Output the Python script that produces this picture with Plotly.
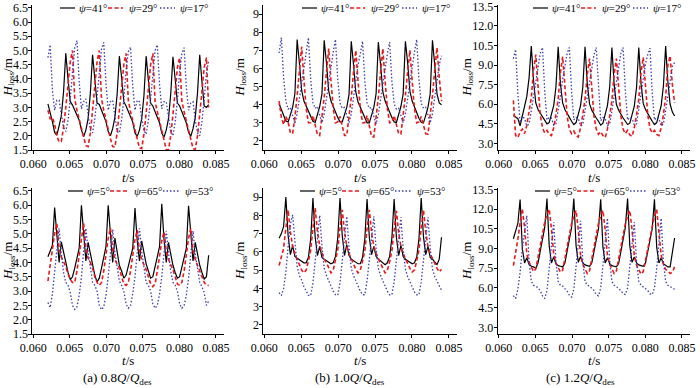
import numpy as np
import plotly.graph_objects as go

# sampling times (s)
t = np.linspace(0.062, 0.084, 73)

# ---- (a) 0.8Q/Qdes, top: psi = 41, 29, 17 deg
a_top_41 = [3.12, 2.85, 2.5, 2.12, 2.02, 2.35, 2.7, 3.55, 4.9, 4.0, 3.2, 3.08,
            2.9, 2.75, 2.55, 2.2, 1.97, 2.2, 2.6, 3.5, 4.85, 4.0, 3.15, 3.1,
            2.88, 2.7, 2.5, 2.15, 2.0, 2.25, 2.65, 3.45, 4.8, 4.05, 3.2, 3.05,
            2.85, 2.72, 2.48, 2.1, 1.98, 2.2, 2.6, 3.4, 4.8, 3.95, 3.15, 3.05,
            2.85, 2.7, 2.45, 2.1, 1.95, 2.2, 2.6, 3.45, 4.78, 4.0, 3.15, 3.05,
            2.85, 2.7, 2.45, 2.12, 1.98, 2.25, 2.65, 3.5, 4.85, 3.9, 3.05, 3.0,
            3.1]
a_top_29 = [2.9, 2.6, 2.65, 2.4, 2.0, 1.78, 1.8, 2.3, 3.0, 3.9, 4.6, 5.0,
            3.3, 2.9, 2.6, 2.3, 1.95, 1.65, 1.62, 2.1, 2.9, 3.8, 4.6, 5.0,
            3.3, 2.9, 2.55, 2.25, 1.9, 1.62, 1.6, 2.1, 2.85, 3.7, 4.5, 4.9,
            3.25, 2.85, 2.55, 2.2, 1.85, 1.57, 1.55, 2.05, 2.8, 3.7, 4.5, 4.9,
            3.2, 2.85, 2.5, 2.2, 1.85, 1.52, 1.5, 2.0, 2.75, 3.6, 4.4, 4.75,
            3.2, 2.85, 2.5, 2.2, 1.85, 1.55, 1.52, 2.0, 2.75, 3.6, 4.4, 4.75,
            3.0]
a_top_17 = [4.75, 5.2, 3.6, 2.9, 3.25, 3.25, 2.75, 2.3, 2.15, 2.55, 3.3, 4.3,
            5.1, 5.35, 3.9, 2.95, 3.2, 3.3, 2.65, 2.2, 2.1, 2.6, 3.35, 4.35,
            5.05, 5.28, 3.85, 2.9, 3.2, 3.25, 2.6, 2.15, 2.1, 2.55, 3.3, 4.3,
            4.95, 5.12, 3.75, 2.9, 3.25, 3.2, 2.6, 2.2, 2.05, 2.55, 3.3, 4.3,
            5.0, 5.2, 3.8, 2.95, 3.2, 3.2, 2.6, 2.15, 2.0, 2.5, 3.25, 4.25,
            4.9, 5.1, 3.7, 2.9, 3.15, 3.2, 2.55, 2.1, 2.0, 2.5, 3.3, 4.2,
            4.65]

# ---- (b) 1.0Q/Qdes, top
b_top_41 = [4.05, 3.7, 3.4, 3.1, 3.05, 3.4, 3.85, 4.6, 7.6, 6.3, 4.8, 4.2,
            3.9, 3.6, 3.3, 3.08, 3.02, 3.45, 3.9, 4.6, 7.55, 6.3, 4.75, 4.2,
            3.85, 3.6, 3.3, 3.05, 3.05, 3.4, 3.85, 4.55, 7.5, 6.2, 4.7, 4.15,
            3.85, 3.55, 3.3, 3.0, 3.0, 3.4, 3.85, 4.6, 7.45, 6.2, 4.7, 4.2,
            3.85, 3.6, 3.3, 3.05, 3.02, 3.4, 3.9, 4.6, 7.5, 6.3, 4.75, 4.2,
            3.85, 3.55, 3.25, 3.03, 3.0, 3.4, 3.85, 4.6, 7.55, 6.2, 4.6, 4.1,
            4.0]
b_top_29 = [4.2, 3.3, 2.9, 3.35, 3.05, 2.45, 2.4, 3.3, 4.5, 5.9, 7.2, 5.4,
            3.8, 3.0, 3.0, 3.4, 2.85, 2.35, 2.3, 3.2, 4.4, 5.8, 7.1, 5.3,
            3.8, 3.0, 3.05, 3.35, 2.85, 2.3, 2.3, 3.2, 4.4, 5.8, 7.0, 5.3,
            3.8, 3.0, 3.0, 3.4, 2.8, 2.25, 2.22, 3.2, 4.4, 5.8, 7.1, 5.3,
            3.8, 3.0, 3.05, 3.4, 2.9, 2.4, 2.38, 3.3, 4.5, 5.8, 7.0, 5.3,
            3.8, 3.0, 3.05, 3.35, 2.9, 2.4, 2.38, 3.3, 4.5, 5.9, 7.15, 5.5,
            4.2]
b_top_17 = [6.85, 7.7, 5.5, 4.2, 3.75, 3.85, 3.4, 2.95, 3.5, 4.4, 5.3, 6.2,
            6.9, 7.7, 5.4, 4.1, 3.8, 3.9, 3.4, 3.0, 3.5, 4.4, 5.3, 6.2,
            6.9, 7.6, 5.4, 4.1, 3.8, 3.85, 3.4, 3.0, 3.5, 4.4, 5.3, 6.2,
            6.8, 7.5, 5.3, 4.1, 3.8, 3.85, 3.35, 2.95, 3.45, 4.35, 5.3, 6.2,
            6.8, 7.45, 5.3, 4.05, 3.75, 3.8, 3.4, 3.0, 3.5, 4.4, 5.3, 6.2,
            6.9, 7.6, 5.4, 4.1, 3.8, 3.85, 3.4, 3.0, 3.5, 4.4, 5.3, 6.2,
            6.7]

# ---- (c) 1.2Q/Qdes, top
c_top_41 = [5.15, 5.05, 4.9, 4.35, 5.1, 5.8, 6.6, 8.0, 10.45, 7.8, 6.1, 5.6,
            5.3, 5.0, 4.75, 4.5, 4.6, 5.2, 5.9, 7.3, 10.4, 7.6, 6.1, 5.6,
            5.25, 5.0, 4.7, 4.45, 4.6, 5.2, 5.9, 7.3, 10.4, 7.6, 6.05, 5.55,
            5.2, 4.95, 4.7, 4.4, 4.55, 5.2, 5.9, 7.3, 10.35, 7.5, 6.0, 5.55,
            5.2, 4.95, 4.7, 4.45, 4.55, 5.15, 5.85, 7.3, 10.35, 7.6, 6.05, 5.6,
            5.25, 5.0, 4.7, 4.45, 4.6, 5.2, 5.9, 7.4, 10.45, 7.7, 6.0, 5.4,
            5.1]
c_top_29 = [6.3, 3.6, 3.45, 3.9, 4.1, 3.75, 4.4, 5.3, 6.5, 8.6, 9.8, 7.4,
            5.2, 4.2, 3.8, 4.0, 3.7, 3.6, 4.2, 5.2, 6.4, 8.4, 9.65, 7.4,
            5.1, 4.1, 3.75, 3.95, 3.6, 3.5, 4.2, 5.2, 6.4, 8.3, 9.5, 7.3,
            5.1, 4.1, 3.7, 3.9, 3.6, 3.45, 4.1, 5.1, 6.3, 8.3, 9.5, 7.3,
            5.1, 4.1, 3.75, 4.0, 3.65, 3.55, 4.2, 5.2, 6.4, 8.4, 9.6, 7.4,
            5.2, 4.15, 3.8, 4.0, 3.7, 3.6, 4.2, 5.2, 6.5, 9.0, 9.7, 7.5,
            6.1]
c_top_17 = [9.5, 10.2, 6.8, 4.6, 5.1, 4.9, 4.35, 4.5, 5.5, 6.6, 7.9, 9.0,
            9.9, 10.35, 7.0, 4.8, 5.0, 4.95, 4.4, 4.5, 5.5, 6.6, 7.9, 9.1,
            9.9, 10.35, 7.0, 4.8, 5.0, 4.9, 4.35, 4.45, 5.5, 6.6, 7.9, 9.0,
            9.8, 10.35, 7.0, 4.75, 5.0, 4.9, 4.35, 4.5, 5.5, 6.6, 7.9, 9.1,
            9.9, 10.35, 7.0, 4.8, 5.0, 4.9, 4.4, 4.5, 5.6, 6.7, 8.0, 9.1,
            9.8, 10.3, 6.9, 4.8, 5.0, 4.9, 4.35, 4.5, 5.5, 6.6, 7.8, 8.9,
            9.2]

# ---- bottom row: psi = 5, 65, 53 deg
a_bot_5 = [4.2, 4.37, 4.6, 5.92, 4.8, 4.0, 4.72, 4.35, 3.9, 3.65, 3.4, 3.5,
           3.8, 4.15, 4.5, 6.0, 4.85, 4.05, 4.7, 4.3, 3.85, 3.55, 3.32, 3.45,
           3.8, 4.2, 4.55, 6.0, 4.8, 4.0, 4.85, 4.35, 3.9, 3.7, 3.45, 3.55,
           3.85, 4.2, 4.5, 5.9, 4.75, 4.05, 4.75, 4.35, 3.95, 3.7, 3.45, 3.5,
           3.8, 4.2, 4.55, 6.05, 4.8, 4.0, 4.7, 4.3, 3.9, 3.65, 3.45, 3.5,
           3.8, 4.2, 4.5, 5.98, 4.85, 4.05, 4.7, 4.3, 3.9, 3.65, 3.42, 3.5,
           4.25]
a_bot_65 = [3.35, 3.9, 4.5, 5.0, 5.36, 4.5, 4.2, 4.05, 3.85, 3.6, 3.4, 3.3,
            3.3, 3.7, 4.3, 4.9, 5.36, 4.5, 4.15, 4.0, 3.8, 3.5, 3.3, 3.2,
            3.3, 3.7, 4.3, 4.85, 5.2, 4.45, 4.1, 3.95, 3.8, 3.5, 3.25, 3.2,
            3.3, 3.7, 4.25, 4.8, 5.13, 4.4, 4.1, 3.95, 3.75, 3.5, 3.25, 3.15,
            3.25, 3.7, 4.25, 4.75, 5.07, 4.4, 4.1, 3.95, 3.75, 3.5, 3.25, 3.2,
            3.3, 3.7, 4.3, 4.85, 5.19, 4.45, 4.1, 3.9, 3.75, 3.5, 3.3, 3.2,
            3.2]
a_bot_53 = [2.6, 2.42, 2.9, 3.6, 4.5, 5.19, 4.3, 3.65, 3.3, 3.2, 2.95, 2.5,
            2.36, 2.45, 2.85, 3.5, 4.4, 5.19, 4.4, 3.75, 3.3, 3.2, 3.0, 2.5,
            2.35, 2.45, 2.85, 3.5, 4.4, 5.15, 4.35, 3.75, 3.35, 3.2, 3.0, 2.55,
            2.4, 2.5, 2.9, 3.5, 4.4, 5.19, 4.4, 3.75, 3.3, 3.2, 3.0, 2.55,
            2.4, 2.5, 2.9, 3.5, 4.35, 5.1, 4.35, 3.7, 3.3, 3.2, 3.0, 2.55,
            2.4, 2.5, 2.85, 3.45, 4.3, 5.1, 4.3, 3.7, 3.3, 3.15, 2.95, 2.5,
            2.65]

b_bot_5 = [6.75, 7.0, 7.4, 9.0, 6.9, 5.85, 6.35, 5.75, 5.65, 5.55, 5.5, 5.4,
           5.4, 5.7, 6.7, 8.95, 6.8, 5.8, 6.3, 5.7, 5.6, 5.5, 5.45, 5.35,
           5.4, 5.75, 6.75, 8.95, 6.9, 5.8, 6.4, 5.8, 5.6, 5.5, 5.45, 5.35,
           5.35, 5.7, 6.7, 8.9, 6.8, 5.85, 6.3, 5.75, 5.6, 5.5, 5.4, 5.3,
           5.4, 5.75, 6.75, 8.9, 6.8, 5.8, 6.35, 5.75, 5.6, 5.5, 5.4, 5.35,
           5.4, 5.7, 6.7, 8.95, 6.85, 5.85, 6.3, 5.7, 5.6, 5.45, 5.3, 5.6,
           6.8]
b_bot_65 = [5.25, 5.7, 6.2, 7.3, 8.3, 7.1, 6.3, 5.9, 5.6, 5.35, 5.0, 4.85,
            5.0, 5.5, 6.1, 7.3, 8.4, 7.1, 6.35, 5.95, 5.6, 5.4, 5.1, 4.85,
            5.0, 5.5, 6.1, 7.3, 8.3, 7.1, 6.3, 5.9, 5.6, 5.35, 5.05, 4.85,
            5.0, 5.5, 6.05, 7.25, 8.3, 7.05, 6.3, 5.9, 5.6, 5.4, 5.1, 4.85,
            5.0, 5.45, 6.05, 7.2, 8.25, 7.05, 6.3, 5.9, 5.6, 5.4, 5.1, 4.9,
            5.0, 5.5, 6.1, 7.3, 8.3, 7.1, 6.3, 5.9, 5.6, 5.35, 5.1, 4.9,
            5.05]
b_bot_53 = [3.76, 3.6, 4.0, 4.9, 6.3, 7.5, 8.03, 6.4, 5.2, 4.7, 4.45, 4.1,
            3.85, 3.62, 3.6, 4.3, 5.5, 6.9, 8.0, 6.3, 5.1, 4.7, 4.4, 4.1,
            3.85, 3.65, 3.62, 4.3, 5.45, 6.85, 7.95, 6.25, 5.1, 4.7, 4.4, 4.1,
            3.85, 3.65, 3.65, 4.4, 5.6, 6.9, 7.95, 6.2, 5.1, 4.7, 4.4, 4.1,
            3.85, 3.65, 3.65, 4.35, 5.55, 6.85, 7.9, 6.2, 5.05, 4.65, 4.35, 4.05,
            3.8, 3.65, 3.65, 4.35, 5.5, 6.85, 7.9, 6.2, 5.05, 4.65, 4.4, 4.15,
            3.9]

c_bot_5 = [9.74, 10.3, 10.9, 12.73, 9.0, 7.9, 8.3, 7.8, 7.65, 7.6, 7.5, 7.9,
           8.8, 9.8, 10.6, 12.8, 9.2, 7.9, 8.35, 7.85, 7.7, 7.65, 7.6, 7.9,
           8.8, 9.8, 10.6, 12.8, 9.2, 7.95, 8.4, 7.9, 7.75, 7.7, 7.65, 7.9,
           8.8, 9.7, 10.5, 12.75, 9.1, 7.9, 8.3, 7.85, 7.7, 7.65, 7.6, 7.85,
           8.8, 9.8, 10.6, 12.8, 9.2, 7.95, 8.35, 7.9, 7.75, 7.7, 7.65, 7.9,
           8.8, 9.7, 10.5, 12.75, 9.1, 7.9, 8.3, 7.85, 7.7, 7.6, 7.6, 8.6,
           9.8]
c_bot_65 = [7.7, 8.6, 9.7, 11.0, 12.03, 10.6, 8.6, 7.96, 7.55, 7.25, 7.45, 8.4,
            9.3, 10.1, 11.0, 11.6, 12.0, 10.5, 8.6, 7.9, 7.5, 7.2, 7.35, 8.3,
            9.2, 10.0, 10.9, 11.5, 11.9, 10.4, 8.5, 7.8, 7.4, 7.1, 7.3, 8.2,
            9.2, 10.0, 10.9, 11.5, 11.9, 10.4, 8.5, 7.8, 7.4, 7.1, 7.3, 8.2,
            9.2, 10.0, 10.9, 11.5, 11.9, 10.4, 8.5, 7.75, 7.35, 7.05, 7.25, 8.1,
            9.2, 10.0, 10.9, 11.5, 11.95, 10.4, 8.5, 7.8, 7.4, 7.3, 7.1, 7.2,
            7.6]
c_bot_53 = [5.42, 5.2, 5.9, 7.2, 9.0, 10.5, 11.5, 8.0, 6.5, 6.2, 6.15, 6.0,
            5.8, 5.4, 5.2, 5.8, 7.3, 9.2, 11.0, 8.0, 6.5, 6.2, 6.15, 5.95,
            5.75, 5.45, 5.3, 5.9, 7.4, 9.4, 11.1, 8.0, 6.5, 6.2, 6.15, 5.95,
            5.8, 5.5, 5.4, 6.0, 7.5, 9.5, 11.3, 8.1, 6.5, 6.2, 6.1, 5.95,
            5.8, 5.55, 5.5, 6.0, 7.5, 9.3, 11.0, 8.0, 6.5, 6.2, 6.1, 5.95,
            5.8, 5.55, 5.5, 6.0, 7.5, 9.5, 11.3, 8.0, 6.5, 6.2, 6.1, 6.0,
            5.9]

top_names = ["41", "29", "17"]
bot_names = ["5", "65", "53"]
captions = ["(a) 0.8<i>Q</i>/<i>Q</i><sub>des</sub>",
            "(b) 1.0<i>Q</i>/<i>Q</i><sub>des</sub>",
            "(c) 1.2<i>Q</i>/<i>Q</i><sub>des</sub>"]
x_ticks = [0.060, 0.065, 0.070, 0.075, 0.080, 0.085]
y_ticks = [[1.5, 2.0, 2.5, 3.0, 3.5, 4.0, 4.5, 5.0, 5.5, 6.0, 6.5],
           [2, 3, 4, 5, 6, 7, 8, 9],
           [3.0, 4.5, 6.0, 7.5, 9.0, 10.5, 12.0, 13.5]]
y_ranges = [[1.5, 6.6], [1.5, 9.5], [2.5, 13.6]]

W, H = 700, 388
FONT = "Liberation Serif, Times New Roman, serif"
BLACK, RED, BLUE = "#000000", "#e8191c", "#3b3bb0"
styles = [dict(color=BLACK, width=1.2, dash="solid"),
          dict(color=RED, width=1.6, dash="4px,2.5px"),
          dict(color=BLUE, width=1.3, dash="1.5px,2px")]

col_px = [(32.3, 224.0), (263.3, 457.0), (497.7, 690.0)]
row_px = [(5.0, 150.0), (188.0, 334.0)]


def px(x):
    return x / W


def py(y):
    return 1 - y / H


panels = [
    [a_top_41, a_top_29, a_top_17], [b_top_41, b_top_29, b_top_17], [c_top_41, c_top_29, c_top_17],
    [a_bot_5, a_bot_65, a_bot_53], [b_bot_5, b_bot_65, b_bot_53], [c_bot_5, c_bot_65, c_bot_53],
]

fig = go.Figure()
layout = {}
annotations = []
shapes = []
axfont = dict(family=FONT, size=12, color="black")

for i, series in enumerate(panels):
    r, c = divmod(i, 3)
    n = i + 1
    xa = "x" if n == 1 else f"x{n}"
    ya = "y" if n == 1 else f"y{n}"
    for s, st in zip(series, styles):
        fig.add_trace(go.Scatter(x=t, y=s, mode="lines", xaxis=xa, yaxis=ya,
                                 line=st, showlegend=False, hoverinfo="skip"))
    x0, x1 = col_px[c]
    y0, y1 = row_px[r]
    common = dict(showline=True, linecolor="black", linewidth=1, mirror=False,
                  ticks="outside", ticklen=3, tickwidth=1, tickcolor="black",
                  showgrid=False, zeroline=False, tickfont=axfont, automargin=False,
                  ticklabeloverflow="allow")
    layout["xaxis" if n == 1 else f"xaxis{n}"] = dict(
        domain=[px(x0), px(x1)], anchor=ya, range=[0.05986, 0.0861],
        tickvals=x_ticks, ticktext=[f"{v:.3f}" for v in x_ticks], **common)
    yt = y_ticks[c]
    layout["yaxis" if n == 1 else f"yaxis{n}"] = dict(
        domain=[py(y1), py(y0)], anchor=xa, range=y_ranges[c],
        tickvals=yt, ticktext=[(f"{v:.1f}" if c != 1 else f"{v:d}") for v in yt],
        ticklabelstandoff=-2, **common)

    # axis titles
    ytitle_x = [8, 240, 467][c]
    annotations.append(dict(x=px(ytitle_x), y=py((y0 + y1) / 2), xref="paper", yref="paper",
                            text="<i>H</i><sub>loss</sub>/m", textangle=-90, showarrow=False,
                            font=dict(family=FONT, size=13, color="black"),
                            xanchor="center", yanchor="middle"))
    annotations.append(dict(x=px((x0 + x1) / 2), y=py([178, 360][r]), xref="paper", yref="paper",
                            text="<i>t</i>/s", showarrow=False,
                            font=dict(family=FONT, size=13, color="black"),
                            xanchor="center", yanchor="middle"))

    # legend (drawn manually, compact like the reference)
    names = top_names if r == 0 else bot_names
    if r == 0:
        lx0 = [60, 302, 533][c]
        offs = [(0, 15, 17), (48, 63, 67), (100, 115, 118)]
        ly = 8
    else:
        lx0 = [68, 300, 535][c]
        offs = [(0, 15, 17), (42, 60, 64), (95, 112, 115)]
        ly = 191
    for (a, b, tx), nm, st in zip(offs, names, styles):
        shapes.append(dict(type="line", xref="paper", yref="paper",
                           x0=px(lx0 + a), x1=px(lx0 + b), y0=py(ly), y1=py(ly),
                           line=dict(color=st["color"], width=st["width"], dash=st["dash"])))
        annotations.append(dict(x=px(lx0 + tx), y=py(ly), xref="paper", yref="paper",
                                text=f"<i>ψ</i>={nm}°", showarrow=False,
                                font=dict(family=FONT, size=11, color="black"),
                                xanchor="left", yanchor="middle"))

for c, cap in enumerate(captions):
    annotations.append(dict(x=px([117.5, 350, 580][c]), y=py(378), xref="paper", yref="paper",
                            text=cap, showarrow=False,
                            font=dict(family=FONT, size=13, color="black"),
                            xanchor="center", yanchor="middle"))

fig.update_layout(template="none", width=W, height=H, autosize=False,
                  margin=dict(l=0, r=0, t=0, b=0, pad=0),
                  font=dict(family=FONT, size=12, color="black"),
                  paper_bgcolor="white", plot_bgcolor="white",
                  annotations=annotations, shapes=shapes, **layout)

fig.write_html("out.html", config={"displayModeBar": False},
               post_script="document.body.style.margin='0';document.body.style.overflow='hidden';")
